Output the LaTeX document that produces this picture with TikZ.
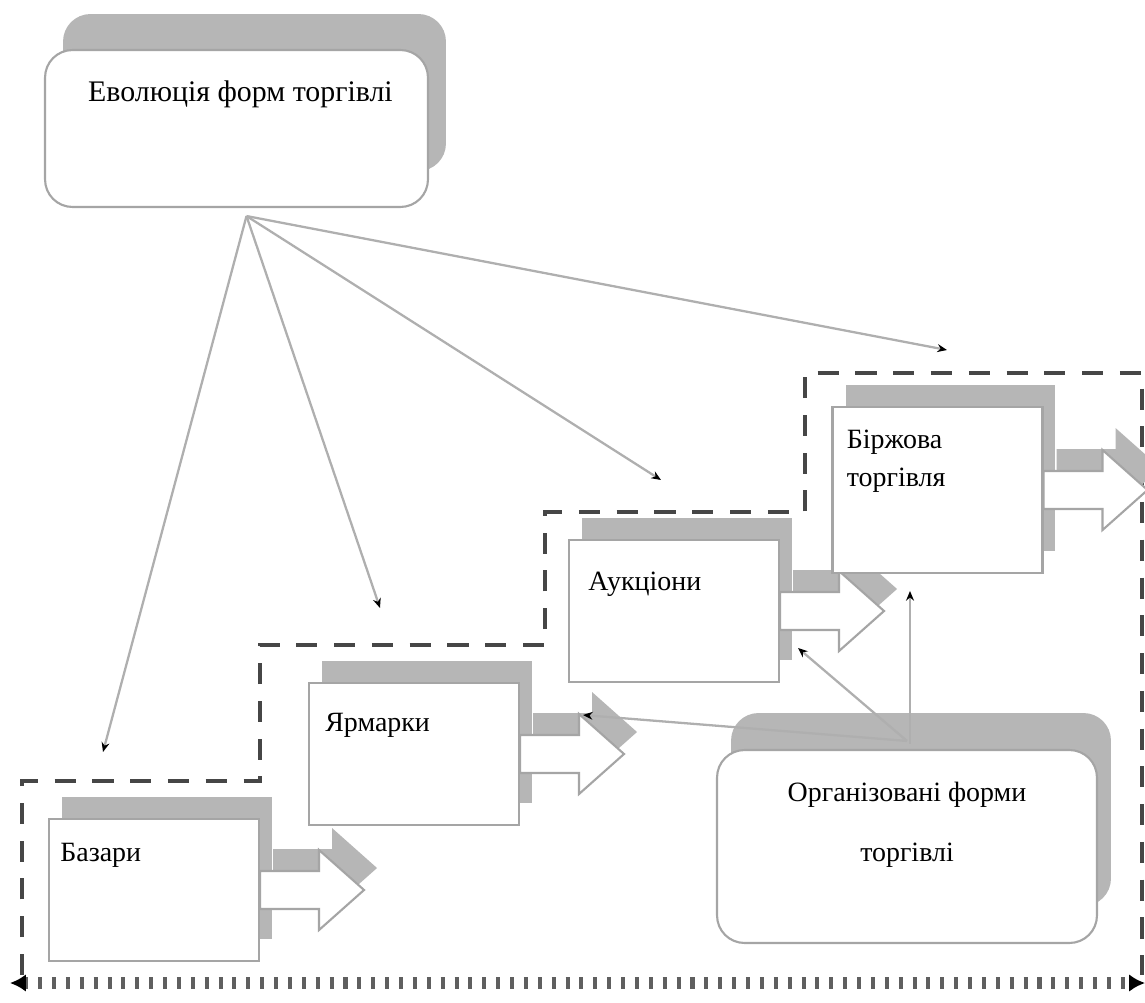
\documentclass[tikz,border=0pt]{standalone}
\usepackage{fontspec}
\setmainfont{Liberation Serif}
\usetikzlibrary{calc,shadows,arrows.meta}

\definecolor{shadowgray}{RGB}{182,182,182}
\definecolor{edgegray}{RGB}{165,165,165}
\definecolor{framegray}{RGB}{70,70,70}
\definecolor{linkgray}{RGB}{175,175,175}
\definecolor{axisgray}{RGB}{95,95,95}

\begin{document}
\begin{tikzpicture}[x=0.02cm, y=-0.02cm,
  every node/.style={font=\fontsize{15.9pt}{19pt}\selectfont, inner sep=0pt},
  stagebox/.style={draw=edgegray, line width=1.2pt, fill=white,
    minimum width=4.2cm, minimum height=2.84cm,
    drop shadow={shadow xshift=0.26cm, shadow yshift=0.44cm, fill=shadowgray, opacity=1}},
  blockarrow/.style={draw=edgegray, line width=1.2pt, fill=white,
    drop shadow={shadow xshift=0.26cm, shadow yshift=0.44cm, fill=shadowgray, opacity=1}},
  roundbox/.style={draw=edgegray, line width=1.2pt, fill=white, rounded corners=0.55cm},
  link/.style={draw=linkgray, line width=1.3pt, -{Stealth[length=5.5pt,width=4.5pt,black]}},
  stepframe/.style={draw=framegray, line width=2.8pt, dash pattern=on 12pt off 9.5pt},
  timeaxis/.style={draw=axisgray, line width=6.5pt, dash pattern=on 2.3pt off 5.6pt,
    {Latex[length=9pt,width=10pt,black]}-{Latex[length=9pt,width=10pt,black]}}
]
\useasboundingbox (0,0) rectangle (1145,1003);

% stepped dashed frame around the stages
\draw[stepframe] (22,975) -- (22,781) -- (260,781) -- (260,645) -- (545,645)
  -- (545,512) -- (805,512) -- (805,373) -- (1142,373) -- (1142,975);

% time axis
\coordinate (axL) at (10,983);
\coordinate (axR) at (1145,983);
\draw[timeaxis] (axL) -- (axR);

% title box
\node[roundbox, minimum width=7.66cm, minimum height=3.14cm,
  drop shadow={shadow xshift=0.36cm, shadow yshift=0.72cm, fill=shadowgray, opacity=1}]
  (top) at (236.5,128.5) {};
\node (ttl) at ($(top.north)+(4,45)$) {\fontsize{17pt}{20pt}\selectfont Еволюція форм торгівлі};

% stage boxes
\node[stagebox] (b1) at (154,890) {};
\path[blockarrow] ($(b1.east)+(0,-19)$) -- ++(59,0) -- ++(0,-21) -- ++(45,40)
  -- ++(-45,40) -- ++(0,-21) -- ++(-59,0) -- cycle;
\node[anchor=west] (t1) at ($(b1.north west)+(12,37)$) {Базари};

\node[stagebox] (b2) at (414,754) {};
\path[blockarrow] ($(b2.east)+(0,-19)$) -- ++(59,0) -- ++(0,-21) -- ++(45,40)
  -- ++(-45,40) -- ++(0,-21) -- ++(-59,0) -- cycle;
\node[anchor=west] (t2) at ($(b2.north west)+(17,43)$) {Ярмарки};

\node[stagebox] (b3) at (674,611) {};
\path[blockarrow] ($(b3.east)+(0,-19)$) -- ++(59,0) -- ++(0,-21) -- ++(45,40)
  -- ++(-45,40) -- ++(0,-21) -- ++(-59,0) -- cycle;
\node[anchor=west] (t3) at ($(b3.north west)+(20,45)$) {Аукціони};

\node[stagebox, minimum height=3.32cm] (b4) at (937.5,490) {};
\path[blockarrow] ($(b4.east)+(0,-19)$) -- ++(59,0) -- ++(0,-21) -- ++(45,40)
  -- ++(-45,40) -- ++(0,-21) -- ++(-59,0) -- cycle;
\node[anchor=north west, align=left, font=\fontsize{15.9pt}{21.5pt}\selectfont]
  (t4) at ($(b4.north west)+(15,24)$) {Біржова\\торгівля};

% organised forms box
\node[roundbox, minimum width=7.6cm, minimum height=3.86cm,
  drop shadow={shadow xshift=0.28cm, shadow yshift=0.74cm, fill=shadowgray, opacity=1}]
  (org) at (907,846.5) {};
\node[align=center, font=\fontsize{15.9pt}{34pt}\selectfont]
  (orgt) at ($(org.center)+(0,-22)$) {Організовані форми\\торгівлі};

% links from the title
\coordinate (hub) at ($(top.south)+(10,8)$);
\coordinate (g1) at (103,752);
\coordinate (g2) at (380,608);
\coordinate (g3) at (661,480);
\coordinate (g4) at (947,350);
\draw[link] (hub) -- (g1);
\draw[link] (hub) -- (g2);
\draw[link] (hub) -- (g3);
\draw[link] (hub) -- (g4);

% links from the organised forms box
\coordinate (ohub) at ($(org.north)+(0,-8)$);
\coordinate (o1) at (583,715);
\coordinate (o2) at (798,648);
\coordinate (o3) at ($(ohub)+(3,-150)$);
\draw[link] (ohub) -- (o1);
\draw[link] (ohub) -- (o2);
\draw[link] ($(ohub)+(3,3)$) -- (o3);
\end{tikzpicture}
\end{document}
